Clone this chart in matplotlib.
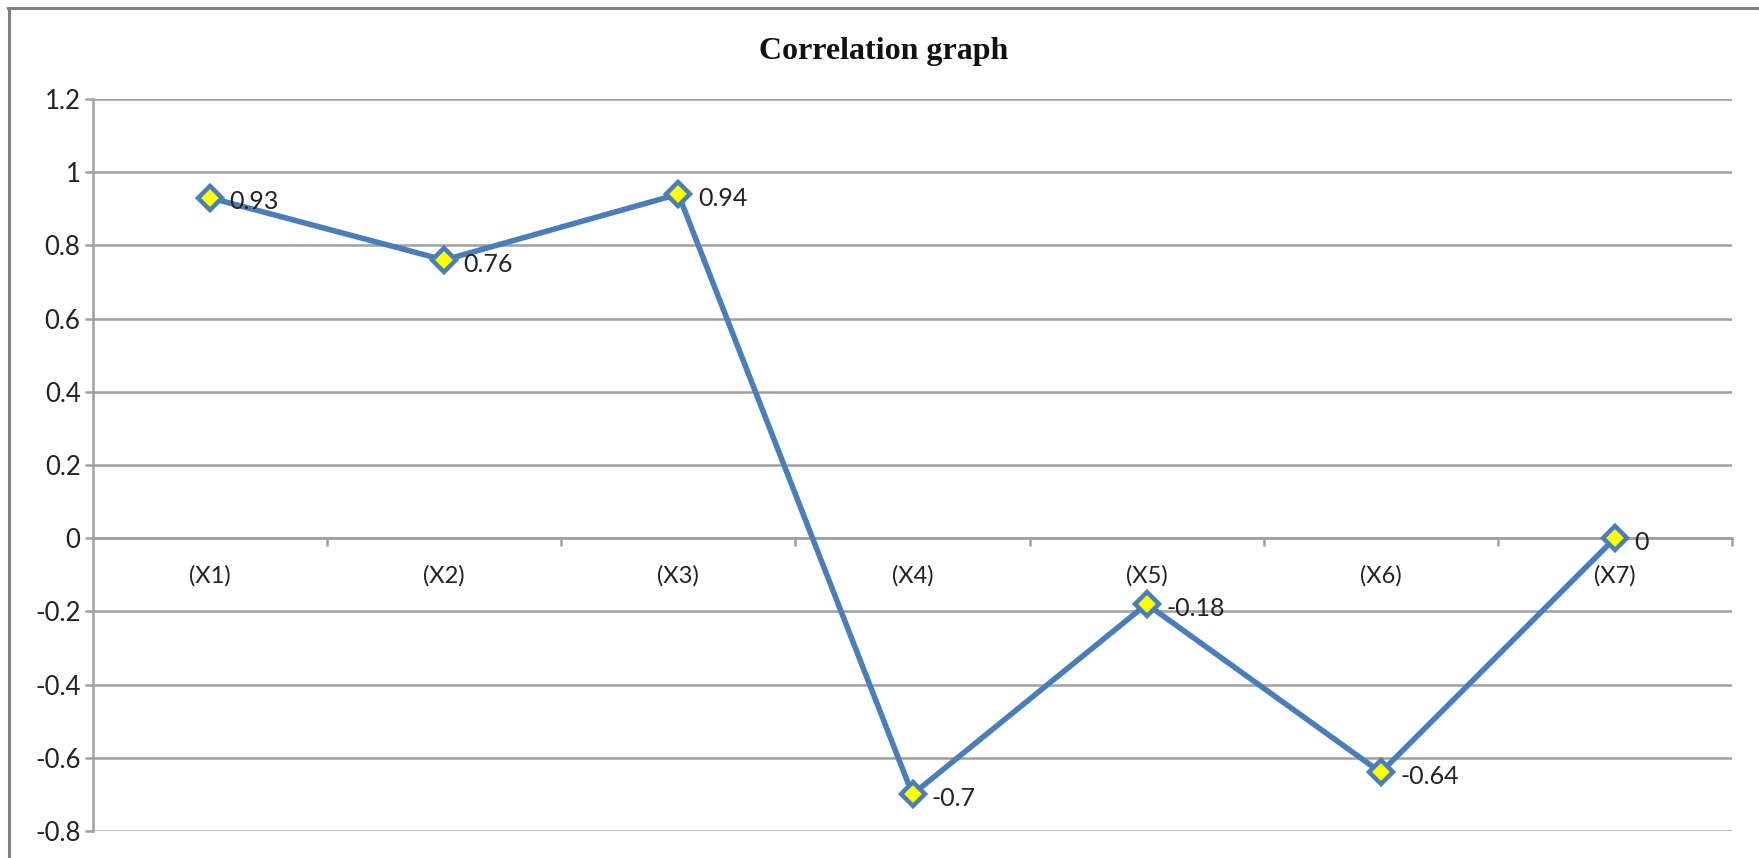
import numpy as np
import matplotlib.pyplot as plt
from matplotlib.lines import Line2D
from matplotlib.ticker import FixedLocator

# Correlation coefficients for each variable
categories = ['(X1)', '(X2)', '(X3)', '(X4)', '(X5)', '(X6)', '(X7)']
corr = [0.93, 0.76, 0.94, -0.7, -0.18, -0.64, 0]
labels = ['0.93', '0.76', '0.94', '-0.7', '-0.18', '-0.64', '0']
yticks = [-0.8, -0.6, -0.4, -0.2, 0, 0.2, 0.4, 0.6, 0.8, 1, 1.2]
ytick_labels = ['-0.8', '-0.6', '-0.4', '-0.2', '0', '0.2', '0.4', '0.6', '0.8', '1', '1.2']

W, H = 1759, 858
fig = plt.figure(figsize=(W / 100, H / 100), dpi=100)
fig.patch.set_facecolor('white')

# plot area in pixels
left, right, top, bottom = 93, 1732, 99, 831
ax = fig.add_axes([left / W, 1 - bottom / H, (right - left) / W, (bottom - top) / H])

grid_col = '#a0a0a0'
blue = '#4a7ebb'
font = 'Lato'

x = np.arange(len(categories))
ax.set_xlim(-0.5, len(categories) - 0.5)
ax.set_ylim(-0.8, 1.2)

for yv in yticks:
    ax.axhline(yv, color=grid_col, lw=1.8, zorder=1)

ax.plot(x, corr, color=blue, lw=4, marker='D', ms=12.5,
        mfc='#ffff00', mec=blue, mew=3.2, zorder=3, clip_on=False)

for xi, yi, t in zip(x, corr, labels):
    ax.annotate(t, (xi, yi), xytext=(14, -3), textcoords='offset points',
                ha='left', va='center', fontsize=18, family=font, color='#222222')

# axes styling
for s in ['top', 'right']:
    ax.spines[s].set_visible(False)
ax.spines['left'].set_color(grid_col)
ax.spines['left'].set_linewidth(1.8)
ax.spines['bottom'].set_position(('data', 0))
ax.spines['bottom'].set_color(grid_col)
ax.spines['bottom'].set_linewidth(1.8)

ax.set_yticks(yticks)
ax.set_yticklabels(ytick_labels, fontsize=18.5, family=font, color='#222222')
ax.tick_params(axis='y', length=6, width=1.8, color=grid_col, pad=3)

ax.set_xticks(x)
ax.set_xticklabels(categories, fontsize=17, family=font, color='#222222')
ax.tick_params(axis='x', which='major', length=0, pad=19)
ax.xaxis.set_minor_locator(FixedLocator(np.arange(0.5, len(categories), 1.0)))
ax.tick_params(axis='x', which='minor', length=6, width=1.8, color=grid_col, direction='out')

fig.text(0.5 * (760 + 1007) / W, 1 - 51 / H, 'Correlation graph', ha='center', va='center',
         fontsize=23, fontweight='bold', family='Liberation Serif', color='#111111')

# outer chart border (top and left edges)
fig.add_artist(Line2D([8 / W, 1], [1 - 8 / H, 1 - 8 / H], color='#808080', lw=2.2))
fig.add_artist(Line2D([8.5 / W, 8.5 / W], [0, 1 - 8 / H], color='#808080', lw=2.2))

fig.savefig('out.png', dpi=100)
